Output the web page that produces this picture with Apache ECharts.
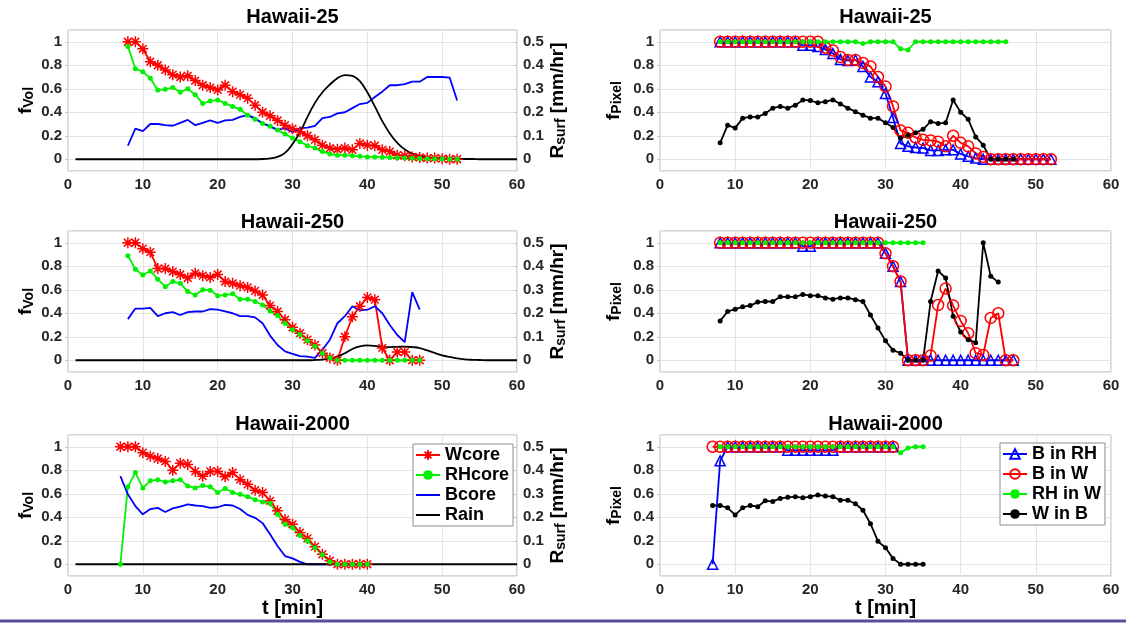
<!DOCTYPE html>
<html>
<head>
<meta charset="utf-8">
<title>Hawaii core fractions</title>
<script src="https://cdn.jsdelivr.net/npm/echarts@6/dist/echarts.min.js"></script>
<style>
  html, body { margin: 0; padding: 0; background: #fff; }
  #chart { width: 1126px; height: 624px; }
</style>
</head>
<body>
<div id="chart"></div>
<script>
// ---- data (1-min steps; each list starts at the given minute) ----
const panelTitles = ['Hawaii-25', 'Hawaii-250', 'Hawaii-2000'];
const volNames = ['Wcore', 'RHcore', 'Bcore', 'Rain'];
const pixNames = ['B in RH', 'B in W', 'RH in W', 'W in B'];

// left column: f_Vol (Wcore, RHcore, Bcore) and surface rain R_surf
const volStart = [8, 8, 7];
const wcore25 = [1.0, 1.0, 0.94, 0.83, 0.80, 0.76, 0.72, 0.70, 0.71, 0.67, 0.63, 0.61, 0.59, 0.63, 0.575, 0.55, 0.52, 0.46, 0.40, 0.37, 0.33, 0.29, 0.26, 0.235, 0.20, 0.165, 0.12, 0.095, 0.085, 0.095, 0.08, 0.135, 0.12, 0.115, 0.08, 0.065, 0.035, 0.03, 0.02, 0.015, 0.01, 0.01, 0.005, 0, 0];
const rhcore25 = [0.96, 0.77, 0.745, 0.69, 0.59, 0.595, 0.61, 0.57, 0.60, 0.55, 0.475, 0.495, 0.505, 0.475, 0.45, 0.425, 0.375, 0.34, 0.305, 0.28, 0.25, 0.215, 0.18, 0.15, 0.115, 0.095, 0.065, 0.045, 0.035, 0.035, 0.03, 0.025, 0.02, 0.02, 0.018, 0.015, 0.012, 0.01, 0.008, 0.006, 0.005, 0.004, 0.003, 0.002, 0.001];
const bcore25 = [0.115, 0.26, 0.24, 0.30, 0.30, 0.29, 0.285, 0.31, 0.335, 0.29, 0.31, 0.33, 0.31, 0.33, 0.335, 0.36, 0.375, 0.35, 0.305, 0.28, 0.25, 0.265, 0.23, 0.265, 0.27, 0.285, 0.35, 0.36, 0.39, 0.40, 0.435, 0.47, 0.48, 0.53, 0.575, 0.63, 0.63, 0.64, 0.66, 0.66, 0.70, 0.70, 0.70, 0.695, 0.50];

const wcore250 = [1.0, 1.0, 0.95, 0.92, 0.78, 0.78, 0.755, 0.73, 0.70, 0.74, 0.72, 0.705, 0.73, 0.67, 0.655, 0.635, 0.62, 0.59, 0.555, 0.465, 0.415, 0.345, 0.28, 0.23, 0.175, 0.13, 0.06, 0.02, 0, 0.20, 0.37, 0.46, 0.535, 0.515, 0.105, 0, 0.07, 0.07, 0, 0];
const rhcore250 = [0.89, 0.775, 0.725, 0.76, 0.69, 0.625, 0.67, 0.655, 0.585, 0.555, 0.60, 0.595, 0.55, 0.555, 0.565, 0.52, 0.52, 0.50, 0.47, 0.42, 0.38, 0.315, 0.26, 0.22, 0.165, 0.12, 0.06, 0.02, 0, 0, 0, 0, 0, 0, 0, 0, 0, 0, 0, 0];
const bcore250 = [0.35, 0.44, 0.44, 0.445, 0.375, 0.40, 0.41, 0.385, 0.41, 0.415, 0.415, 0.435, 0.43, 0.415, 0.40, 0.375, 0.375, 0.365, 0.315, 0.21, 0.13, 0.075, 0.055, 0.035, 0.03, 0.02, 0.09, 0.175, 0.315, 0.375, 0.46, 0.425, 0.43, 0.46, 0.40, 0.30, 0.215, 0.155, 0.58, 0.43];

const wcore2000 = [1.0, 1.0, 1.0, 0.95, 0.92, 0.90, 0.875, 0.80, 0.86, 0.85, 0.79, 0.75, 0.79, 0.79, 0.745, 0.78, 0.72, 0.68, 0.63, 0.61, 0.54, 0.455, 0.38, 0.34, 0.27, 0.22, 0.15, 0.085, 0.03, 0, 0, 0, 0, 0];
const rhcore2000 = [0, 0.66, 0.78, 0.65, 0.71, 0.72, 0.70, 0.71, 0.72, 0.665, 0.65, 0.67, 0.66, 0.61, 0.645, 0.61, 0.595, 0.575, 0.55, 0.53, 0.52, 0.425, 0.34, 0.31, 0.245, 0.20, 0.14, 0.08, 0.02, 0, 0, 0, 0, 0];
const bcore2000 = [0.75, 0.595, 0.495, 0.425, 0.47, 0.48, 0.445, 0.475, 0.49, 0.51, 0.50, 0.495, 0.48, 0.485, 0.505, 0.50, 0.47, 0.42, 0.395, 0.35, 0.255, 0.155, 0.07, 0.05, 0.02, 0, 0, 0, 0, 0, 0, 0, 0, 0];

// rain rate [mm/hr], minutes 1..60
const rainStart = 1;
const rain25 = [0, 0, 0, 0, 0, 0, 0, 0, 0, 0, 0, 0, 0, 0, 0, 0, 0, 0, 0, 0, 0, 0, 0, 0, 0, 0.001, 0.004, 0.01, 0.027, 0.065, 0.115, 0.18, 0.24, 0.285, 0.318, 0.345, 0.358, 0.355, 0.332, 0.285, 0.225, 0.162, 0.11, 0.07, 0.042, 0.024, 0.015, 0.01, 0.006, 0.004, 0.003, 0.002, 0.001, 0.001, 0, 0, 0, 0, 0, 0];
const rain250 = [0, 0, 0, 0, 0, 0, 0, 0, 0, 0, 0, 0, 0, 0, 0, 0, 0, 0, 0, 0, 0, 0, 0, 0, 0, 0, 0, 0, 0, 0, 0, 0, 0.001, 0.003, 0.007, 0.016, 0.03, 0.048, 0.059, 0.063, 0.061, 0.057, 0.056, 0.057, 0.058, 0.056, 0.052, 0.042, 0.031, 0.021, 0.014, 0.008, 0.004, 0.002, 0.001, 0, 0, 0, 0, 0];
const rain2000 = [0, 0, 0, 0, 0, 0, 0, 0, 0, 0, 0, 0, 0, 0, 0, 0, 0, 0, 0, 0, 0, 0, 0, 0, 0, 0, 0, 0, 0, 0, 0, 0, 0, 0, 0, 0, 0, 0, 0, 0, 0, 0, 0, 0, 0, 0, 0, 0, 0, 0, 0, 0, 0, 0, 0, 0, 0, 0, 0, 0];

// right column: f_Pixel
const bInRhStart = [8, 8, 7];
const bInRh25 = [1, 1, 1, 1, 1, 1, 1, 1, 1, 1, 1, 0.97, 0.97, 0.96, 0.935, 0.90, 0.85, 0.84, 0.845, 0.79, 0.70, 0.66, 0.56, 0.355, 0.135, 0.11, 0.10, 0.095, 0.075, 0.075, 0.08, 0.08, 0.045, 0.025, 0.01, 0, 0, 0, 0, 0, 0, 0, 0, 0, 0];
const bInRh250 = [1, 1, 1, 1, 1, 1, 1, 1, 1, 1, 1, 0.97, 0.97, 1, 1, 1, 1, 1, 1, 1, 1, 1, 0.91, 0.80, 0.67, 0, 0, 0, 0, 0, 0, 0, 0, 0, 0, 0, 0, 0, 0, 0];
const bInRh2000 = [0, 0.88, 1, 1, 1, 1, 1, 1, 1, 1, 0.97, 0.97, 0.97, 0.97, 0.97, 0.97, 0.97, 1, 1, 1, 1, 1, 1, 1, 1];

const bInWStart = [8, 8, 7];
const bInW25 = [1, 1, 1, 1, 1, 1, 1, 1, 1, 1, 1, 1, 1, 1, 0.95, 0.925, 0.87, 0.845, 0.845, 0.82, 0.79, 0.70, 0.62, 0.45, 0.245, 0.225, 0.185, 0.165, 0.16, 0.15, 0.11, 0.20, 0.14, 0.11, 0.05, 0.02, 0, 0, 0, 0, 0, 0, 0, 0, 0];
const bInW250 = [1, 1, 1, 1, 1, 1, 1, 1, 1, 1, 1, 1, 1, 1, 1, 1, 1, 1, 1, 1, 1, 1, 0.91, 0.80, 0.67, 0, 0, 0, 0.04, 0.47, 0.61, 0.465, 0.335, 0.23, 0.06, 0.045, 0.36, 0.40, 0, 0];
const bInW2000 = [1, 1, 1, 1, 1, 1, 1, 1, 1, 1, 1, 1, 1, 1, 1, 1, 1, 1, 1, 1, 1, 1, 1, 1, 1];

const rhInWStart = [8, 8, 8];
const rhInW25 = [1, 1, 1, 1, 1, 1, 1, 1, 1, 1, 1, 1, 1, 1, 1, 1, 1, 1, 1, 0.985, 1, 1, 1, 1, 0.94, 0.93, 1, 1, 1, 1, 1, 1, 1, 1, 1, 1, 1, 1, 1];
const rhInW250 = [1, 1, 1, 1, 1, 1, 1, 1, 1, 1, 1, 1, 1, 1, 1, 1, 1, 1, 1, 1, 1, 1, 1, 1, 1, 1, 1, 1];
const rhInW2000 = [1, 1, 1, 1, 1, 1, 1, 1, 1, 1, 1, 1, 1, 1, 1, 1, 1, 1, 1, 1, 1, 1, 1, 1, 0.95, 0.99, 1, 1];

const wInBStart = [8, 8, 7];
const wInB25 = [0.14, 0.29, 0.265, 0.35, 0.36, 0.36, 0.39, 0.435, 0.45, 0.435, 0.46, 0.505, 0.50, 0.48, 0.49, 0.505, 0.47, 0.435, 0.405, 0.375, 0.35, 0.35, 0.31, 0.27, 0.18, 0.205, 0.225, 0.255, 0.32, 0.305, 0.31, 0.505, 0.40, 0.34, 0.19, 0.12, 0, 0, 0, 0];
const wInB250 = [0.335, 0.415, 0.435, 0.455, 0.465, 0.495, 0.50, 0.50, 0.54, 0.54, 0.54, 0.56, 0.55, 0.55, 0.53, 0.52, 0.53, 0.53, 0.515, 0.50, 0.385, 0.275, 0.165, 0.085, 0.06, 0, 0, 0, 0.50, 0.76, 0.70, 0.375, 0.24, 0.175, 0.15, 1.0, 0.715, 0.665];
const wInB2000 = [0.50, 0.50, 0.48, 0.42, 0.48, 0.50, 0.49, 0.54, 0.535, 0.56, 0.57, 0.575, 0.565, 0.575, 0.59, 0.58, 0.575, 0.545, 0.545, 0.515, 0.46, 0.345, 0.195, 0.14, 0.05, 0, 0, 0, 0];

const wcore = [wcore25, wcore250, wcore2000];
const rhcore = [rhcore25, rhcore250, rhcore2000];
const bcore = [bcore25, bcore250, bcore2000];
const rain = [rain25, rain250, rain2000];
const bInRh = [bInRh25, bInRh250, bInRh2000];
const bInW = [bInW25, bInW250, bInW2000];
const rhInW = [rhInW25, rhInW250, rhInW2000];
const wInB = [wInB25, wInB250, wInB2000];

// ---- layout / style ----
const FONT = '"Liberation Sans", Arial, Helvetica, sans-serif';
const TICK_COLOR = '#262626';
const rowTop = [30, 231, 435];
const rowH = 141;
const colLeft = [68, 660];
const colW = [449, 451];
const titleY = [17.5, 222, 424.5];

const STAR = 'path://M5,0L5,10M0,5L10,5M1.5,1.5L8.5,8.5M1.5,8.5L8.5,1.5';
const RED = '#ff0000', GREEN = '#00f000', BLUE = '#0000ff', BLACK = '#000000';

function pts(start, vals) {
  return vals.map((v, i) => [start + i, v]);
}

function lineSeries(name, axisIdx, yIdx, data, o) {
  return {
    type: 'line',
    name: name,
    xAxisIndex: axisIdx,
    yAxisIndex: yIdx,
    data: data,
    symbol: o.symbol || 'none',
    symbolSize: o.size || 4,
    showSymbol: !!o.symbol,
    smooth: o.smooth || false,
    lineStyle: { color: o.color, width: o.width || 1.8 },
    itemStyle: o.hollow
      ? { color: 'rgba(0,0,0,0)', borderColor: o.color, borderWidth: o.bw || 1.5 }
      : { color: o.color, borderColor: o.color, borderWidth: 0 },
    emphasis: { disabled: true },
    animation: false
  };
}

const grids = [], xAxes = [], yAxes = [], series = [];
const axisLabelStyle = { fontSize: 15, fontWeight: 'bold', fontFamily: FONT, color: TICK_COLOR };

for (let r = 0; r < 3; r++) {
  for (let c = 0; c < 2; c++) {
    const g = r * 2 + c;
    grids.push({
      left: colLeft[c], top: rowTop[r], width: colW[c], height: rowH,
      show: true, borderColor: '#b0b0b0', borderWidth: 1, backgroundColor: '#fff'
    });
    xAxes.push({
      type: 'value', gridIndex: g, min: 0, max: 60, interval: 10,
      axisLine: { show: false }, axisTick: { show: false },
      axisLabel: Object.assign({ margin: 6 }, axisLabelStyle),
      splitLine: { show: true, lineStyle: { color: '#e4e4e4', width: 1 } }
    });
    yAxes.push({
      type: 'value', gridIndex: g, position: 'left',
      min: -0.1, max: 1.1, minInterval: 0.2, maxInterval: 0.2,
      axisLine: { show: false },
      axisTick: { show: true, length: 3, lineStyle: { color: '#c4c4c4' } },
      axisLabel: Object.assign({ margin: 6, showMinLabel: false, showMaxLabel: false }, axisLabelStyle),
      splitLine: { show: true, lineStyle: { color: '#e4e4e4', width: 1 } }
    });
  }
}
// right-hand rain axes for the left column (indices 6, 7, 8)
for (let r = 0; r < 3; r++) {
  yAxes.push({
    type: 'value', gridIndex: r * 2, position: 'right',
    min: -0.05, max: 0.55, minInterval: 0.1, maxInterval: 0.1,
    axisLine: { show: false },
    axisTick: { show: true, inside: true, length: 3, lineStyle: { color: '#c4c4c4' } },
    axisLabel: Object.assign({ margin: 6, showMinLabel: false, showMaxLabel: false }, axisLabelStyle),
    splitLine: { show: false }
  });
}

for (let r = 0; r < 3; r++) {
  const gl = r * 2, gr = r * 2 + 1;
  series.push(lineSeries('Wcore', gl, gl, pts(volStart[r], wcore[r]), { color: RED, symbol: STAR, size: 11, hollow: true, bw: 1.5 }));
  series.push(lineSeries('RHcore', gl, gl, pts(volStart[r], rhcore[r]), { color: GREEN, symbol: 'circle', size: 5 }));
  series.push(lineSeries('Bcore', gl, gl, pts(volStart[r], bcore[r]), { color: BLUE }));
  series.push(lineSeries('Rain', gl, 6 + r, pts(rainStart, rain[r]), { color: BLACK, smooth: 0.4 }));

  series.push(lineSeries('B in RH', gr, gr, pts(bInRhStart[r], bInRh[r]), { color: BLUE, symbol: 'triangle', size: 10, hollow: true }));
  series.push(lineSeries('B in W', gr, gr, pts(bInWStart[r], bInW[r]), { color: RED, symbol: 'circle', size: 11, hollow: true }));
  series.push(lineSeries('RH in W', gr, gr, pts(rhInWStart[r], rhInW[r]), { color: GREEN, symbol: 'circle', size: 5 }));
  series.push(lineSeries('W in B', gr, gr, pts(wInBStart[r], wInB[r]), { color: BLACK, symbol: 'circle', size: 5 }));
}

// ---- text: titles, axis names ----
const richName = {
  f: { fontSize: 19, fontWeight: 'bold', fontFamily: FONT, fill: '#000', verticalAlign: 'top', lineHeight: 20 },
  s: { fontSize: 14, fontWeight: 'bold', fontFamily: FONT, fill: '#000', verticalAlign: 'bottom', lineHeight: 15, padding: [11, 0, 0, 0] }
};

const graphics = [];
for (let r = 0; r < 3; r++) {
  const midY = rowTop[r] + rowH / 2;
  for (let c = 0; c < 2; c++) {
    graphics.push({
      type: 'text', x: colLeft[c] + colW[c] / 2, y: titleY[r], silent: true,
      style: { text: panelTitles[r], fontSize: 20, fontWeight: 'bold', fontFamily: FONT, fill: '#000', align: 'center', verticalAlign: 'middle' }
    });
  }
  graphics.push({
    type: 'text', x: 26, y: midY, rotation: Math.PI / 2, silent: true,
    style: { text: '{f|f}{s|Vol}', rich: richName, align: 'center', verticalAlign: 'middle' }
  });
  graphics.push({
    type: 'text', x: 558, y: midY, rotation: Math.PI / 2, silent: true,
    style: { text: '{f|R}{s|surf}{f| [mm/hr]}', rich: richName, align: 'center', verticalAlign: 'middle' }
  });
  graphics.push({
    type: 'text', x: 614, y: midY, rotation: Math.PI / 2, silent: true,
    style: { text: '{f|f}{s|Pixel}', rich: richName, align: 'center', verticalAlign: 'middle' }
  });
}
for (let c = 0; c < 2; c++) {
  graphics.push({
    type: 'text', x: colLeft[c] + colW[c] / 2, y: 608, silent: true,
    style: { text: 't [min]', fontSize: 20, fontWeight: 'bold', fontFamily: FONT, fill: '#000', align: 'center', verticalAlign: 'middle' }
  });
}
graphics.push({
  type: 'rect', silent: true,
  shape: { x: 0, y: 619.5, width: 1126, height: 3 },
  style: { fill: '#5b4d9e' }
});

const legendText = { fontSize: 18, fontWeight: 'bold', fontFamily: FONT, color: '#000', lineHeight: 18 };
function legendBox(left, top, names) {
  return {
    orient: 'vertical', left: left, top: top,
    itemWidth: 24, itemHeight: 12, itemGap: 2,
    padding: [2, 4, 2, 2],
    borderColor: '#8c8c8c', borderWidth: 1, backgroundColor: '#fff',
    textStyle: legendText,
    selectedMode: false,
    data: names
  };
}

const chart = echarts.init(document.getElementById('chart'), null, { renderer: 'canvas' });
chart.setOption({
  animation: false,
  backgroundColor: '#fff',
  grid: grids,
  xAxis: xAxes,
  yAxis: yAxes,
  series: series,
  legend: [
    legendBox(413, 444, [
      { name: volNames[0] },
      { name: volNames[1] },
      { name: volNames[2], itemStyle: { color: 'rgba(0,0,0,0)', borderWidth: 0 } },
      { name: volNames[3], itemStyle: { color: 'rgba(0,0,0,0)', borderWidth: 0 } }
    ]),
    legendBox(1000, 443, pixNames.map(n => ({ name: n })))
  ],
  graphic: graphics
});
</script>
</body>
</html>
